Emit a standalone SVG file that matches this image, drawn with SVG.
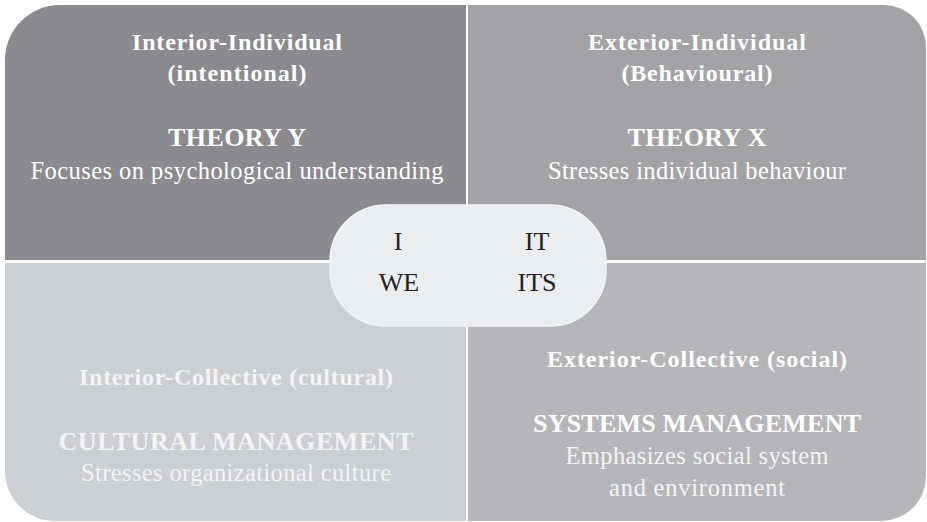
<svg xmlns="http://www.w3.org/2000/svg" width="927" height="522" viewBox="0 0 927 522">
  <defs>
    <!-- outer outline with unequal rounded corners -->
    <clipPath id="outer">
      <path d="M60,5 H884 A42,42 0 0 1 926,47 V476 A45,45 0 0 1 881,521 H55 A50,50 0 0 1 5,471 V60 A55,55 0 0 1 60,5 Z"/>
    </clipPath>
    <style>
      text { font-family: "Liberation Serif", "Times New Roman", serif; text-anchor: middle; }
      .head { font-size: 24px; font-weight: bold; fill: #ffffff; }
      .theory { font-size: 26px; font-weight: bold; fill: #ffffff; }
      .body { font-size: 24.5px; fill: #ffffff; }
      .pale { fill: #f4f4f5; }
      .axis { font-size: 26px; fill: #222222; }
    </style>
  </defs>

  <rect width="927" height="522" fill="#ffffff"/>

  <g clip-path="url(#outer)">
    <g id="interior-individual">
      <rect x="0" y="0" width="466" height="260" fill="#8b8a8e"/>
    </g>
    <g id="exterior-individual">
      <rect x="468" y="0" width="459" height="260" fill="#a3a3a6"/>
    </g>
    <g id="interior-collective">
      <rect x="0" y="263" width="466" height="259" fill="#cdcfd2"/>
    </g>
    <g id="exterior-collective">
      <rect x="468" y="263" width="459" height="259" fill="#b6b6b9"/>
    </g>
  </g>

  <!-- quadrant labels -->
  <g id="interior-individual-text">
    <text class="head" x="237" y="50" textLength="210">Interior-Individual</text>
    <text class="head" x="237" y="81" textLength="139">(intentional)</text>
    <text class="theory" x="237" y="146" textLength="138">THEORY Y</text>
    <text class="body" x="237" y="179" textLength="413">Focuses on psychological understanding</text>
  </g>
  <g id="exterior-individual-text">
    <text class="head" x="697" y="50" textLength="218">Exterior-Individual</text>
    <text class="head" x="697" y="81" textLength="151">(Behavioural)</text>
    <text class="theory" x="697" y="146" textLength="139">THEORY X</text>
    <text class="body" x="697" y="179" textLength="298">Stresses individual behaviour</text>
  </g>
  <g id="interior-collective-text">
    <text class="head pale" x="236" y="385" textLength="314">Interior-Collective (cultural)</text>
    <text class="theory pale" x="236" y="450" textLength="355">CULTURAL MANAGEMENT</text>
    <text class="body pale" x="236" y="481" textLength="310">Stresses organizational culture</text>
  </g>
  <g id="exterior-collective-text">
    <text class="head" x="697" y="367" textLength="300">Exterior-Collective (social)</text>
    <text class="theory" x="697" y="432" textLength="328">SYSTEMS MANAGEMENT</text>
    <text class="body pale" x="697" y="464" textLength="263">Emphasizes social system</text>
    <text class="body pale" x="697" y="496" textLength="176">and environment</text>
  </g>

  <!-- central pill with the four quadrant pronouns -->
  <g id="center">
    <rect x="330" y="205" width="276" height="121" rx="56" ry="56" fill="#ecedef" stroke="#f3f4f5" stroke-width="1.5"/>
    <text class="axis" x="398" y="250">I</text>
    <text class="axis" x="537" y="250">IT</text>
    <text class="axis" x="399" y="291">WE</text>
    <text class="axis" x="537" y="291">ITS</text>
  </g>
</svg>
